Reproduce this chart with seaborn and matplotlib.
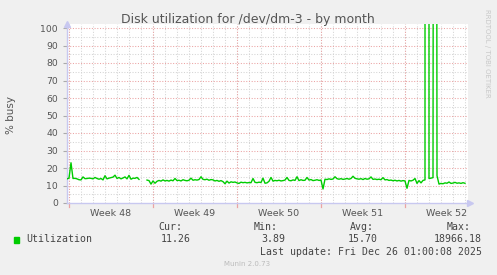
import numpy as np
import pandas as pd
import matplotlib
matplotlib.use("Agg")
import matplotlib.pyplot as plt
from matplotlib.patches import Rectangle
import seaborn as sns

# ---------------- data ----------------
title = "Disk utilization for /dev/dm-3 - by month"
y_label = "% busy"
week_labels = ["Week 48", "Week 49", "Week 50", "Week 51", "Week 52"]
week_starts = [0, 7, 14, 21, 28]          # days since Monday of week 48
series_name = "Utilization"
stats_headers = ["Cur:", "Min:", "Avg:", "Max:"]
stats_values = ["11.26", "3.89", "15.70", "18966.18"]
last_update = "Last update: Fri Dec 26 01:00:08 2025"
footer = "Munin 2.0.73"
watermark = "RRDTOOL / TOBI OETIKER"

# one sample every 4 hours, first sample 4 h before Monday of week 48
first_day = -1 / 6
step_days = 1 / 6
util_part1 = [13.8, 14.2, 23.0, 14.0, 14.1, 13.8, 13.3, 13.2, 14.9, 13.9,
              14.0, 14.2, 14.1, 13.8, 14.6, 14.0, 13.6, 14.0, 13.2, 15.6,
              13.8, 14.2, 14.5, 14.8, 15.9, 14.0, 14.6, 13.8, 14.3, 14.9,
              13.8, 15.8, 13.6, 14.2, 14.1, 14.6, 13.5]
util_gap = [np.nan, np.nan, np.nan]
util_part2 = [13.1, 12.8, 10.8, 12.6, 11.3, 12.4, 12.9, 12.5, 13.2, 12.6,
              12.9, 12.5, 13.1, 12.7, 14.0, 12.8, 13.0, 12.6, 13.3, 12.9,
              12.7, 13.0, 14.2, 13.0, 13.3, 13.1, 13.4, 15.0, 13.5, 13.3,
              13.6, 13.0, 13.4, 13.2, 12.6, 12.9, 12.4, 12.8, 12.2, 11.0,
              12.5, 11.4, 12.1, 11.8, 12.0, 11.5, 11.2, 11.9, 11.6, 11.8,
              11.5, 11.7, 11.6, 14.0, 11.8, 11.6, 11.9, 11.7, 14.2, 11.3,
              11.5, 12.4, 14.6, 12.5, 12.9, 12.7, 13.0, 12.6, 12.8, 13.1,
              14.6, 12.9, 12.7, 13.2, 12.9, 15.0, 12.8, 13.3, 12.9, 13.0,
              14.6, 13.1, 13.4, 12.8, 13.0, 13.3, 12.9, 13.1, 8.0, 13.6,
              13.4, 13.8, 13.5, 13.7, 15.0, 13.9, 13.6, 13.9, 13.5, 13.7,
              14.0, 13.6, 14.0, 15.3, 14.1, 13.8, 13.6, 13.9, 13.4, 14.0,
              13.6, 13.8, 14.9, 13.5, 13.7, 13.4, 13.6, 13.3, 14.5, 13.2,
              13.4, 12.9, 13.1, 12.7, 13.0, 12.6, 12.9, 12.5, 12.8, 12.6,
              8.4, 12.9, 12.6, 13.0, 14.0, 11.2, 12.8, 11.5, 12.9, 13.2,
              18966.18, 14.0, 14.2, 14.5, 1200.0, 15.6, 10.8, 11.2, 11.0, 11.5,
              11.3, 12.0, 11.2, 11.4, 11.8, 11.3, 11.5, 11.2, 11.6, 11.26]

busy = util_part1 + util_gap + util_part2
segment = [0] * len(util_part1) + [1] * len(util_gap) + [1] * len(util_part2)
df = pd.DataFrame({"sample": np.arange(len(busy)), "busy": busy, "seg": segment})
df["day"] = first_day + df["sample"] * step_days
df = df.dropna()

# ---------------- figure ----------------
W, H = 497, 275
BG = "#f0f0f0"
fig = plt.figure(figsize=(W / 100, H / 100), dpi=100, facecolor=BG)

def fx(px):
    return px / W

def fy(py):
    return 1 - py / H

ax_left, ax_right, ax_top, ax_bottom = 67, 468, 24, 203
ax = fig.add_axes([fx(ax_left), fy(ax_bottom), (ax_right - ax_left) / W,
                   (ax_bottom - ax_top) / H])
ax.set_facecolor("white")

px_per_day = 12.0
x0 = (ax_left - 69) / px_per_day
x1 = (ax_right - 69) / px_per_day
ymax = (ax_bottom - ax_top) / 1.75
ax.set_xlim(x0, x1)
ax.set_ylim(0, ymax)

minor_col = "#d4d4d4"
major_col = "#eba3a3"
dots = (0, (1, 1.6))
# minor grid
for d in range(0, 34):
    ax.axvline(d, color=minor_col, lw=0.75, ls=dots, zorder=0)
for v in range(5, 101, 10):
    ax.axhline(v, color=minor_col, lw=0.75, ls=dots, zorder=0)
# major grid
for d in week_starts:
    ax.axvline(d, color=major_col, lw=0.75, ls=dots, zorder=1)
    ax.plot([d, d], [0, -2.2], color=major_col, lw=0.9, clip_on=False, zorder=1)
for v in range(10, 101, 10):
    ax.axhline(v, color=major_col, lw=0.75, ls=dots, zorder=1)

sns.lineplot(data=df, x="day", y="busy", units="seg", estimator=None,
             color="#00cc00", lw=1.0, ax=ax, legend=False, zorder=3)

ax.set_xlabel("")
ax.set_ylabel("")
ax.set_yticks(range(0, 101, 10))
ax.set_yticklabels([str(v) for v in range(0, 101, 10)])
ax.set_xticks([s + 3.5 for s in week_starts])
ax.set_xticklabels(week_labels)
ax.tick_params(axis="y", length=3, width=0.8, color="#aaaaaa", pad=3.5,
               labelsize=6.7, labelcolor="#555555")
ax.tick_params(axis="x", length=0, pad=4.5, labelsize=6.8, labelcolor="#555555")

for s in ["top", "right"]:
    ax.spines[s].set_visible(False)
for s in ["left", "bottom"]:
    ax.spines[s].set_color("#c8c8f0")
    ax.spines[s].set_linewidth(1.0)
ax.plot([0], [1], marker="^", ms=4, color="#c8c8f0", transform=ax.transAxes,
        clip_on=False, zorder=5)
ax.plot([1.005], [0], marker=">", ms=4, color="#c8c8f0", transform=ax.transAxes,
        clip_on=False, zorder=5)

# texts
fig.text(fx(248), fy(19.5), title, ha="center", va="center", fontsize=9,
         color="#555555")
fig.text(fx(11), fy(115.5), y_label, ha="center", va="center", rotation=90,
         fontsize=7.5, color="#555555")
fig.text(fx(487), fy(53), watermark, ha="center", va="center", rotation=270,
         fontsize=5.0, color="#c8c8c8")

mono = "DejaVu Sans Mono"
fig.add_artist(Rectangle((fx(14), fy(243)), 5 / W, 6 / H,
                         transform=fig.transFigure, color="#00cc00"))
fig.text(fx(26), fy(239.5), series_name, ha="left", va="center",
         family=mono, fontsize=7.1, color="#444444")
header_right = [182, 278, 374, 471]
value_right = [191, 285, 378, 482]
for hx, h in zip(header_right, stats_headers):
    fig.text(fx(hx), fy(227.3), h, ha="right", va="center", family=mono,
             fontsize=7.1, color="#444444")
for vx, v in zip(value_right, stats_values):
    fig.text(fx(vx), fy(239.5), v, ha="right", va="center", family=mono,
             fontsize=7.1, color="#444444")
fig.text(fx(482), fy(251.7), last_update, ha="right", va="center",
         family=mono, fontsize=7.1, color="#444444")
fig.text(fx(247.5), fy(264), footer, ha="center", va="center",
         fontsize=5.0, color="#bbbbbb")

fig.savefig("out.png", dpi=100, facecolor=BG)
